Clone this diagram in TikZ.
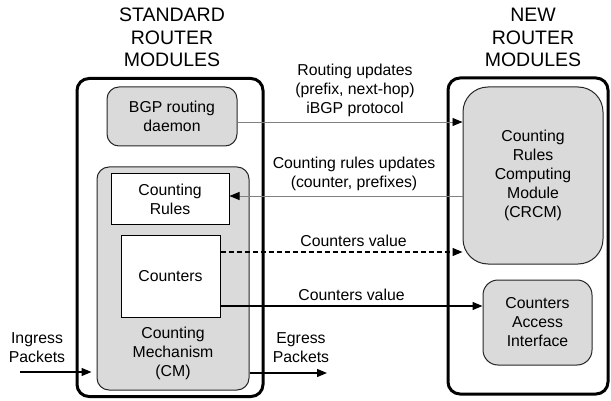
\documentclass[tikz,border=0pt]{standalone}
\usepackage{fontspec}
\setmainfont{Liberation Sans}
\usepackage{tikz}
\usetikzlibrary{positioning, arrows.meta}
\definecolor{modgray}{RGB}{218,218,218}
\tikzset{
	x=1pt, y=-1pt, % pixel like units, y goes down
	>={Triangle[length=10pt,width=8pt,black]}, % filled black arrow heads
	every node/.style={font=\fontsize{15.8}{19}\selectfont, align=center}, % text of all nodes
	modtitle/.style={font=\fontsize{19.5}{22.5}\selectfont}, % the two column titles
	routerbox/.style={draw, line width=3pt, rounded corners=12pt, inner sep=0pt}, % big router frames
	modbox/.style={draw=black!85, line width=1pt, fill=modgray, rounded corners=12pt, inner sep=0pt}, % grey modules
	plainbox/.style={draw, line width=1pt, fill=white, inner sep=0pt}, % white boxes inside CM
	updateline/.style={->, draw=gray, line width=0.9pt}, % thin grey update arrows
	valueline/.style={->, line width=1.3pt}, % black arrows
}
\begin{document}
\begin{tikzpicture}
	\useasboundingbox (0,0) rectangle (611,401);
	% titles
	\node[modtitle] (stdtitle) at (172,37.5) {STANDARD\\ROUTER\\MODULES};
	\node[modtitle] (newtitle) at (533,37.5) {NEW\\ROUTER\\MODULES};
	% frames
	\node[routerbox, minimum width=186pt, minimum height=318pt] (stdbox) at (170,237.5) {};
	\node[routerbox, minimum width=160pt, minimum height=316pt] (newbox) at (528,236) {};
	% standard modules
	\node[modbox, minimum width=130pt, minimum height=59pt] (bgp) at (172,116.5) {BGP routing\\daemon};
	\node[modbox, minimum width=152pt, minimum height=223pt] (cm) at (173,278.5) {};
	\node[plainbox, minimum width=118pt, minimum height=51pt] (rules) at (170,199.5) {Counting\\Rules};
	\node[plainbox, minimum width=99pt, minimum height=81pt] (counters) at (170.5,276.5) {Counters};
	\node (cmtext) at (173,353) {Counting\\Mechanism\\(CM)};
	% new modules
	\node[modbox, rounded corners=25pt, minimum width=140pt, minimum height=177pt] (crcm) at (533,175.5) {Counting\\Rules\\Computing\\Module\\(CRCM)};
	\node[modbox, rounded corners=15pt, minimum width=109pt, minimum height=85pt] (cai) at (537.5,322.5) {Counters\\Access\\Interface};
	% packets
	\coordinate (ingress) at (20,372);
	\coordinate (egress) at (327,373);
	\node (ingresstext) at (37,348) {Ingress\\Packets};
	\node (egresstext) at (301,348) {Egress\\Packets};
	% arrows
	\coordinate (rt) at ([yshift=-5.5pt]bgp.east);
	\coordinate (cr) at ([yshift=3.5pt]rules.east);
	\coordinate (cv1) at ([yshift=24.5pt]counters.east);
	\coordinate (cv2) at ([yshift=-29.5pt]counters.east);
	\draw[updateline] (rt) -- (rt -| crcm.west) node[midway, above=1pt, xshift=5pt] {Routing updates\\(prefix, next-hop)\\iBGP protocol};
	\draw[updateline] (cr -| crcm.west) -- (cr) node[midway, above=1pt, xshift=8pt] {Counting rules updates\\(counter, prefixes)};
	\draw[valueline, dash pattern=on 5pt off 3pt] (cv1) -- (cv1 -| crcm.west) node[midway, above=1pt, xshift=12pt] {Counters value};
	\draw[valueline] (cv2) -- (cv2 -| cai.west) node[midway, above=1pt] {Counters value};
	\draw[valueline, shorten >=5pt] (ingress) -- (ingress -| cm.west);
	\draw[valueline] (egress -| cm.east) -- (egress);
\end{tikzpicture}
\end{document}
